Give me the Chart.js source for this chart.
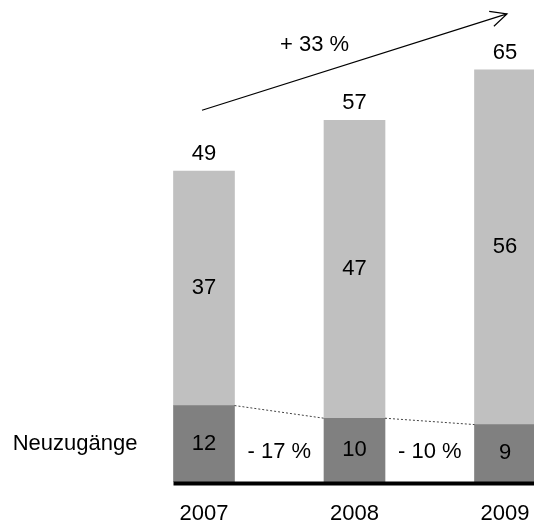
<!DOCTYPE html>
<html>
<head>
<meta charset="utf-8">
<script src="https://cdn.jsdelivr.net/npm/chart.js@4"></script>
<style>
html, body { margin: 0; padding: 0; background: #fff; overflow: hidden; }
#wrap { position: absolute; left: 0; top: 0; width: 534px; height: 531px; }
#wrap canvas { display: block; }
</style>
</head>
<body>
<div id="wrap"><canvas id="chart"></canvas></div>
<script>
// Daten
const years = ['2007', '2008', '2009'];
const neuzugaenge = [12, 10, 9];
const bestand = [37, 47, 56];
const rowLabel = 'Neuzugänge';

const totals = years.map((_, i) => neuzugaenge[i] + bestand[i]);
const pct = (a, b) => Math.round((b - a) / a * 100);
const fmtPct = v => (v < 0 ? '- ' : '+ ') + Math.abs(v) + ' %';

const FONT = '"Liberation Sans", Arial, sans-serif';

// Beschriftungen, Pfeil, Linien
const annotations = {
    id: 'annotations',
    afterDatasetsDraw(chart) {
        const ctx = chart.ctx;
        const x = chart.scales.x, y = chart.scales.y;
        const dark = chart.getDatasetMeta(0).data;
        const light = chart.getDatasetMeta(1).data;
        const half = dark[0].width / 2;
        const y0 = y.getPixelForValue(0);

        ctx.save();
        ctx.fillStyle = '#000';
        ctx.font = '22px ' + FONT;
        ctx.textAlign = 'center';
        ctx.textBaseline = 'middle';

        [dark, light].forEach((els, d) => els.forEach((el, i) => {
            const c = el.getCenterPoint();
            ctx.fillText(chart.data.datasets[d].data[i], c.x, c.y);
        }));

        light.forEach((el, i) => ctx.fillText(totals[i], el.x, el.y - 17));

        for (let i = 0; i < dark.length - 1; i++) {
            const mx = (dark[i].x + dark[i + 1].x) / 2;
            ctx.fillText(fmtPct(pct(neuzugaenge[i], neuzugaenge[i + 1])), mx, y0 - 30);
        }

        // gestrichelte Verbindungen
        ctx.strokeStyle = '#444';
        ctx.lineWidth = 1;
        ctx.setLineDash([2, 2]);
        for (let i = 0; i < dark.length - 1; i++) {
            ctx.beginPath();
            ctx.moveTo(dark[i].x + half, dark[i].y);
            ctx.lineTo(dark[i + 1].x - half, dark[i + 1].y);
            ctx.stroke();
        }
        ctx.setLineDash([]);

        // Grundlinie
        ctx.strokeStyle = '#000';
        ctx.lineWidth = 4;
        ctx.beginPath();
        ctx.moveTo(dark[0].x - half, y0 + 2);
        ctx.lineTo(chart.width, y0 + 2);
        ctx.stroke();

        // Zeilenbeschriftung
        ctx.textAlign = 'right';
        ctx.fillText(rowLabel, dark[0].x - half - 36, dark[0].getCenterPoint().y);

        // Pfeil
        const ax0 = x.getPixelForValue(0) - 2, ay0 = y.getPixelForValue(58.6);
        const ax1 = x.getPixelForValue(2) + 2, ay1 = y.getPixelForValue(73.8);
        ctx.lineWidth = 1.2;
        ctx.beginPath();
        ctx.moveTo(ax0, ay0);
        ctx.lineTo(ax1, ay1);
        const ang = Math.atan2(ay1 - ay0, ax1 - ax0);
        const len = 18, spread = 0.45;
        ctx.moveTo(ax1 - len * Math.cos(ang - spread), ay1 - len * Math.sin(ang - spread));
        ctx.lineTo(ax1, ay1);
        ctx.lineTo(ax1 - len * Math.cos(ang + spread), ay1 - len * Math.sin(ang + spread));
        ctx.stroke();

        const tx = x.getPixelForValue(1) - 40;
        const ty = ay0 + (tx - ax0) * (ay1 - ay0) / (ax1 - ax0) - 30;
        ctx.textAlign = 'center';
        ctx.fillText('+ ' + pct(totals[0], totals[totals.length - 1]) + ' %', tx, ty);
        ctx.restore();
    }
};

new Chart(document.getElementById('chart'), {
    type: 'bar',
    data: {
        labels: years,
        datasets: [
            { label: rowLabel, data: neuzugaenge, backgroundColor: '#808080', barThickness: 61, clip: false },
            { label: 'Bestand', data: bestand, backgroundColor: '#c0c0c0', barThickness: 61, clip: false }
        ]
    },
    options: {
        responsive: true,
        maintainAspectRatio: false,
        animation: false,
        layout: { padding: { left: 204, right: 29, top: 0, bottom: 4 } },
        plugins: {
            legend: { display: false },
            tooltip: { enabled: false }
        },
        scales: {
            x: {
                stacked: true,
                offset: false,
                grid: { display: false, drawTicks: true, tickLength: 19 },
                border: { display: false },
                ticks: { color: '#000', font: { size: 22, family: FONT }, padding: 0, maxRotation: 0, autoSkip: false }
            },
            y: {
                stacked: true,
                display: false,
                min: 0,
                max: 76
            }
        }
    },
    plugins: [annotations]
});
</script>
</body>
</html>
